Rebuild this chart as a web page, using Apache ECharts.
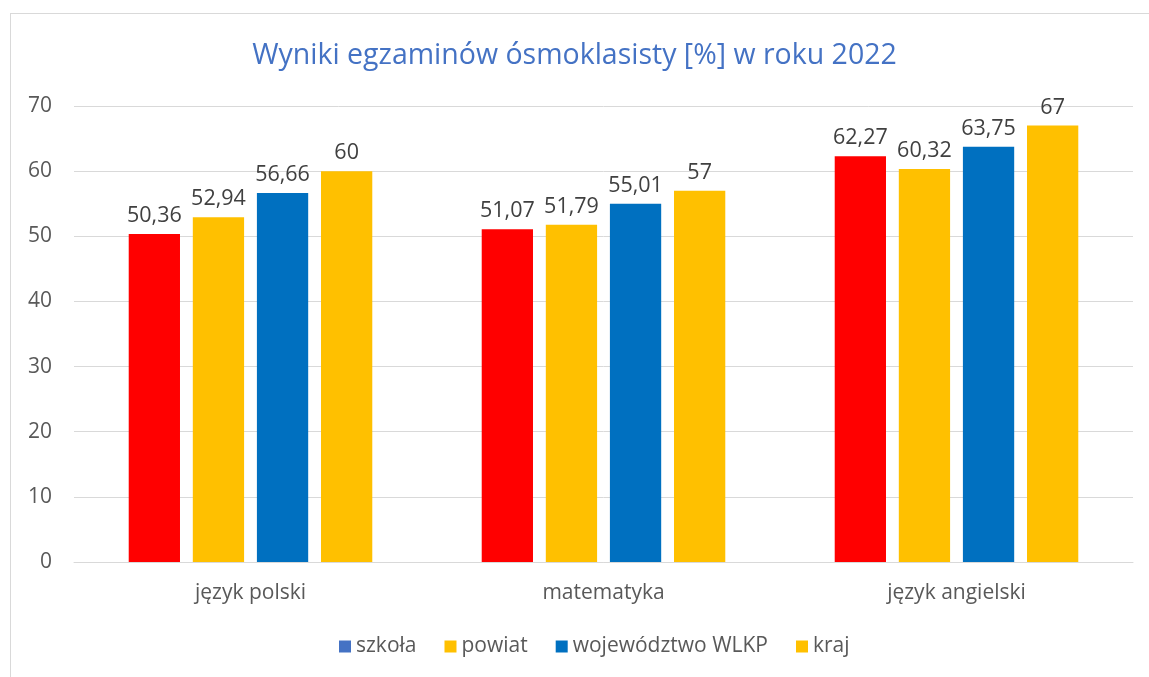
<!DOCTYPE html>
<html>
<head>
<meta charset="utf-8">
<script src="https://cdn.jsdelivr.net/npm/echarts@6/dist/echarts.min.js"></script>
<style>
  html, body { margin: 0; padding: 0; background: #fff; }
  #frame { position: absolute; left: 10px; top: 13px; width: 1160px; height: 700px; border: 1px solid #d9d9d9; }
  #chart { position: absolute; left: 0; top: 0; width: 1149px; height: 677px; }
</style>
</head>
<body>
<div id="frame"></div>
<div id="chart"></div>
<script>
var przedmioty = ['język polski', 'matematyka', 'język angielski'];
var szkola = [50.36, 51.07, 62.27];
var powiat = [52.94, 51.79, 60.32];
var wojewodztwo = [56.66, 55.01, 63.75];
var kraj = [60, 57, 67];
var osY = [0, 10, 20, 30, 40, 50, 60, 70];

var font = '"Open Sans", sans-serif';

function etykieta() {
    return {
        show: true,
        position: 'top',
        distance: 7,
        fontSize: 21.5,
        fontFamily: font,
        color: '#404040',
        formatter: function (p) { return String(p.value).replace('.', ','); }
    };
}

function seria(nazwa, dane, kolor) {
    return {
        name: nazwa,
        type: 'bar',
        data: dane,
        barGap: '25%',
        barCategoryGap: '31%',
        itemStyle: { color: kolor },
        label: etykieta(),
        emphasis: { disabled: true }
    };
}

var chart = echarts.init(document.getElementById('chart'));
chart.setOption({
    animation: false,
    title: {
        text: 'Wyniki egzaminów ósmoklasisty [%] w roku 2022',
        left: 'center',
        top: 36,
        textStyle: { color: '#4472C4', fontSize: 28.5, fontWeight: 'normal', fontFamily: font }
    },
    legend: {
        bottom: 15,
        left: 334,
        itemWidth: 12,
        itemHeight: 12,
        itemGap: 28,
        icon: 'rect',
        textStyle: { color: '#595959', fontSize: 21, fontFamily: font },
        data: [
            { name: 'szkoła', itemStyle: { color: '#4472C4' } },
            { name: 'powiat' },
            { name: 'województwo WLKP' },
            { name: 'kraj' }
        ]
    },
    grid: { left: 74, right: 16, top: 106, bottom: 115, containLabel: false },
    xAxis: {
        type: 'category',
        data: przedmioty,
        axisTick: { show: false },
        axisLine: { lineStyle: { color: '#d9d9d9', width: 1 } },
        axisLabel: { color: '#595959', fontSize: 21, fontFamily: font, margin: 21 }
    },
    yAxis: {
        type: 'value',
        min: osY[0],
        max: osY[osY.length - 1],
        interval: 10,
        axisLine: { show: false },
        axisTick: { show: false },
        splitLine: { lineStyle: { color: '#d9d9d9', width: 1 } },
        axisLabel: { color: '#595959', fontSize: 21, fontFamily: font, margin: 22 }
    },
    series: [
        seria('szkoła', szkola, '#FF0000'),
        seria('powiat', powiat, '#FFC000'),
        seria('województwo WLKP', wojewodztwo, '#0070C0'),
        seria('kraj', kraj, '#FFC000')
    ]
});
</script>
</body>
</html>
